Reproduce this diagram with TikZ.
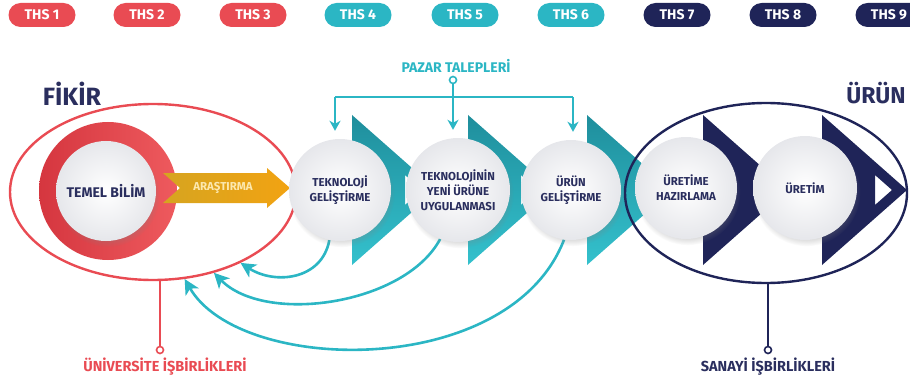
\documentclass[tikz,border=0pt]{standalone}
\usepackage{fontspec}
\setmainfont{Fira Sans}
\usetikzlibrary{shapes.geometric,arrows.meta,shadows,calc}
\pgfdeclarelayer{bglayer}
\pgfdeclarelayer{midlayer}
\pgfsetlayers{bglayer,midlayer,main}
\definecolor{cred}{HTML}{E94B53}
\definecolor{credd}{HTML}{D5363F}
\definecolor{credl}{HTML}{EE5A5E}
\definecolor{cteal}{HTML}{2BB6C4}
\definecolor{ctealdk}{HTML}{1F8E9C}
\definecolor{ctealtl}{HTML}{34C1CD}
\definecolor{cnavy}{HTML}{1F2458}
\definecolor{ctext}{HTML}{2A2E5E}
\definecolor{cgold}{HTML}{D6A420}
\definecolor{corange}{HTML}{F2A312}
\definecolor{ccream}{HTML}{FCE8AE}
\definecolor{cgray}{HTML}{E6E7EB}
\newcommand\mychev[2]{\path[#2, even odd rule] (#1,115) -- ++(85,75) -- ++(-85,75) -- cycle (#1+53,175) -- ++(17,15) -- ++(-17,15) -- cycle;}
\begin{document}
\begin{tikzpicture}[x=1pt,y=-1pt,
  pill/.style={rounded corners=12pt, minimum width=67pt, minimum height=24pt, inner sep=0pt, text=white, font=\bfseries\fontsize{14}{14}\selectfont},
  ballnode/.style={circle, inner sep=0pt, minimum size=102pt, shading=radial, inner color=white, outer color=cgray,
    circular drop shadow={shadow xshift=1.5pt, shadow yshift=-4pt, shadow scale=1.04, opacity=0.3},
    text=ctext, align=center, font=\bfseries\fontsize{11.5}{15}\selectfont},
  title/.style={text=ctext, font=\bfseries\fontsize{25}{25}\selectfont},
  fb/.style={draw=cteal, line width=2.6pt, -{Stealth[length=15pt,width=15pt,inset=4pt]}},
  pz/.style={draw=cteal, line width=2pt},
  pzarrow/.style={pz, -{Stealth[length=10pt,width=11pt,inset=3pt]}, shorten >=8pt},
  tealchev/.style={top color=ctealdk, bottom color=ctealtl},
  navychev/.style={fill=cnavy},
  endcirc/.style={circle, line width=1.6pt, fill=white, minimum size=7pt, inner sep=0pt},
  bottomlabel/.style={font=\bfseries\fontsize{14.5}{14.5}\selectfont}
]
\useasboundingbox (0,0) rectangle (910,377);
\clip (0,0) rectangle (910,377);

% pills
\node[pill, fill=cred]  (p1) at (42,15)  {THS 1};
\node[pill, fill=cred]  (p2) at (147,15) {THS 2};
\node[pill, fill=cred]  (p3) at (253,15) {THS 3};
\node[pill, fill=cteal] (p4) at (358,15) {THS 4};
\node[pill, fill=cteal] (p5) at (465,15) {THS 5};
\node[pill, fill=cteal] (p6) at (571,15) {THS 6};
\node[pill, fill=cnavy] (p7) at (677,15) {THS 7};
\node[pill, fill=cnavy] (p8) at (783,15) {THS 8};
\node[pill, fill=cnavy] (p9) at (889,15) {THS 9};

% titles
\node[title] (fikirt) at (72,94) {FİKİR};
\node[title, font=\bfseries\fontsize{23}{23}\selectfont] (urunt) at (876,93) {ÜRÜN};

\begin{pgfonlayer}{bglayer}
% chevrons
\mychev{352}{tealchev}
\mychev{468}{tealchev}
\mychev{587}{tealchev}
\mychev{703}{navychev}
\mychev{822}{navychev}
% ellipses
\node[ellipse, draw=cred, line width=2.4pt, minimum width=286pt, minimum height=176pt, inner sep=0pt] (fikir) at (153,192) {};
\node[ellipse, draw=cnavy, line width=2.4pt, minimum width=282pt, minimum height=180pt, inner sep=0pt] (urun) at (766,193) {};
\end{pgfonlayer}

% red ring and temel bilim
\path[left color=credd, right color=credl] (108,191) circle[radius=69pt];
\node[ballnode, minimum size=100pt, font=\bfseries\fontsize{14}{16}\selectfont] (tb) at (106,191) {TEMEL BİLİM};

% arastirma arrow
\path[left color=cgold, right color=corange] (163,173) -- (267,173) -- (267,168) -- (290,188) -- (267,208) -- (267,203) -- (163,203) -- (180,188) -- cycle;
\node[text=ccream, font=\bfseries\fontsize{11.5}{12}\selectfont] (ar) at (223,188) {ARAŞTIRMA};

% step circles
\node[ballnode] (tg) at (340,190) {TEKNOLOJİ\\GELİŞTİRME};
\node[ballnode, minimum size=104pt] (ty) at (458,190) {TEKNOLOJİNİN\\YENİ ÜRÜNE\\UYGULANMASI};
\node[ballnode, minimum size=100pt] (ug) at (571,190) {ÜRÜN\\GELİŞTİRME};
\node[ballnode] (uh) at (686,188) {ÜRETİME\\HAZIRLAMA};
\node[ballnode, minimum size=104pt] (ur) at (805,188) {ÜRETİM};

% feedback arrows (behind the circles, above the ellipses)
\begin{pgfonlayer}{midlayer}
\draw[fb] (tg.258) .. controls (322,280) and (275,285) .. (fikir.-39.4);
\draw[fb] (ty.250) .. controls (405,305) and (265,325) .. (fikir.-53.5);
\draw[fb] (ug.262) .. controls (510,380) and (240,375) .. (fikir.-70.8);
\end{pgfonlayer}

% pazar talepleri
\node[text=cteal, font=\bfseries\fontsize{14}{14}\selectfont] (pazar) at (456,66) {PAZAR TALEPLERİ};
\node[endcirc, draw=cteal] (pc) at (453,80) {};
\coordinate (pj) at (453,97);
\coordinate (pl) at (335,97);
\coordinate (pr) at (573,97);
\draw[pz] (pc.south) -- (pj);
\draw[pz] (pl) -- (pr);
\draw[pzarrow] (pl) -- (pl |- tg.north);
\draw[pzarrow] (pj) -- (pj |- ty.north);
\draw[pzarrow] (pr) -- (pr |- ug.north);

% bottom connectors
\node[endcirc, draw=cred] (uc) at (160,350) {};
\draw[cred, line width=2pt] (uc.north) -- (uc.north |- fikir.south);
\node[bottomlabel, text=cred] (ul) at (165,367) {ÜNİVERSİTE İŞBİRLİKLERİ};
\node[endcirc, draw=cnavy] (sc) at (768,350) {};
\draw[cnavy, line width=2pt] (sc.north) -- (sc.north |- urun.south);
\node[bottomlabel, text=ctext] (sl) at (768,367) {SANAYİ İŞBİRLİKLERİ};
\end{tikzpicture}
\end{document}
